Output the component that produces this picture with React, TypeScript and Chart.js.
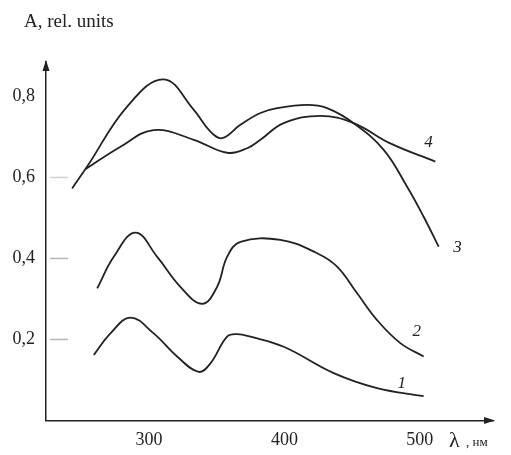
import React, { useEffect, useRef } from "react";
import { Chart, registerables } from "chart.js";

Chart.register(...registerables);

const curve1X = [259.3, 271.6, 286.3, 303.5, 320.8, 336.8, 345.4, 357.7, 365.1, 374.9, 399.5, 436.4, 468.4, 502.8];
const curve1Y = [0.162, 0.215, 0.254, 0.215, 0.158, 0.12, 0.141, 0.207, 0.213, 0.207, 0.182, 0.117, 0.08, 0.06];

const curve2X = [261.8, 274.0, 290.0, 306.1, 323.2, 339.3, 350.3, 357.7, 367.5, 397.0, 424.1, 438.9, 453.7, 468.4, 485.6, 502.8];
const curve2Y = [0.326, 0.404, 0.464, 0.404, 0.33, 0.288, 0.33, 0.404, 0.441, 0.446, 0.413, 0.38, 0.314, 0.248, 0.191, 0.158];

const curve3X = [243.3, 254.4, 283.9, 310.9, 333.1, 345.4, 354.0, 367.5, 382.3, 394.6, 416.8, 431.5, 451.1, 473.3, 490.6, 502.8, 513.9];
const curve3Y = [0.573, 0.627, 0.775, 0.842, 0.767, 0.713, 0.697, 0.73, 0.759, 0.771, 0.779, 0.771, 0.734, 0.668, 0.577, 0.503, 0.429];

const curve4X = [253.0, 279.0, 303.5, 333.1, 357.7, 372.5, 382.3, 399.5, 426.6, 451.1, 478.2, 511.4];
const curve4Y = [0.62, 0.676, 0.717, 0.693, 0.661, 0.672, 0.693, 0.734, 0.752, 0.734, 0.684, 0.639];

const curveNames = ["1", "2", "3", "4"];
const labelX = [486.7, 497.8, 527.7, 506.3];
const labelY = [0.092, 0.219, 0.428, 0.685];

const xTicks = [300, 400, 500];
const yTicks = [0.2, 0.4, 0.6, 0.8];
const yTickLabels = ["0,2", "0,4", "0,6", "0,8"];
const yTitle = "A, rel. units";
const xTitleSymbol = "λ";
const xTitleUnit = ", нм";

const xMin = 224;
const xMax = 554;
const yMin = 0;
const yMax = 0.885;

const ink = "#222222";
const serif = "'Liberation Serif', 'DejaVu Serif', serif";

function toPoints(xs: number[], ys: number[]) {
  return xs.map((x, i) => ({ x, y: ys[i] }));
}

const decorPlugin = {
  id: "decor",
  afterDraw(chart: any) {
    const ctx = chart.ctx as CanvasRenderingContext2D;
    const xs = chart.scales.x;
    const ys = chart.scales.y;
    const area = chart.chartArea;
    ctx.save();
    yTicks.forEach((v, i) => {
      if (v > 0.7) return;
      const py = ys.getPixelForValue(v);
      ctx.strokeStyle = i === 2 ? "#d2d2d2" : "#b5b5b5";
      ctx.lineWidth = 1.5;
      ctx.beginPath();
      ctx.moveTo(area.left + 4, py);
      ctx.lineTo(area.left + 22, py);
      ctx.stroke();
    });
    ctx.fillStyle = ink;
    ctx.beginPath();
    ctx.moveTo(area.left, area.top - 2);
    ctx.lineTo(area.left - 3.5, area.top + 9);
    ctx.lineTo(area.left + 3.5, area.top + 9);
    ctx.closePath();
    ctx.fill();
    ctx.beginPath();
    ctx.moveTo(area.right + 2, area.bottom);
    ctx.lineTo(area.right - 9, area.bottom - 3.5);
    ctx.lineTo(area.right - 9, area.bottom + 3.5);
    ctx.closePath();
    ctx.fill();
    ctx.fillStyle = ink;
    ctx.textBaseline = "middle";
    ctx.textAlign = "left";
    ctx.font = `19px ${serif}`;
    ctx.fillText(yTitle, 24, 22);
    ctx.font = `22px ${serif}`;
    ctx.fillText(xTitleSymbol, 449, 441);
    ctx.font = `13px ${serif}`;
    ctx.fillText(xTitleUnit, 466, 443);
    ctx.font = `italic 17px ${serif}`;
    ctx.textAlign = "center";
    curveNames.forEach((n, i) => {
      ctx.fillText(n, xs.getPixelForValue(labelX[i]), ys.getPixelForValue(labelY[i]));
    });
    ctx.restore();
  },
};

export default function App() {
  const ref = useRef<HTMLCanvasElement>(null);
  useEffect(() => {
    if (!ref.current) return;
    const ds = (xs: number[], yv: number[]) => ({
      data: toPoints(xs, yv),
      borderColor: ink,
      borderWidth: 1.8,
      pointRadius: 0,
      fill: false,
      tension: 0.4,
    });
    const chart = new Chart(ref.current, {
      type: "line",
      data: {
        datasets: [
          ds(curve1X, curve1Y),
          ds(curve2X, curve2Y),
          ds(curve3X, curve3Y),
          ds(curve4X, curve4Y),
        ],
      },
      options: {
        animation: false,
        responsive: false,
        layout: { padding: { top: 62, right: 18, left: 0, bottom: 0 } },
        plugins: { legend: { display: false }, tooltip: { enabled: false } },
        scales: {
          x: {
            type: "linear",
            min: xMin,
            max: xMax,
            afterBuildTicks: (s: any) => {
              s.ticks = xTicks.map((v) => ({ value: v }));
            },
            afterFit: (s: any) => {
              s.height = 34.5;
            },
            grid: { display: false, drawTicks: false },
            border: { display: true, color: ink, width: 1.5 },
            ticks: {
              padding: 9,
              color: ink,
              font: { family: serif, size: 18 },
              maxRotation: 0,
              autoSkip: false,
              callback: (v: any) => String(v),
            },
          },
          y: {
            type: "linear",
            min: yMin,
            max: yMax,
            afterBuildTicks: (s: any) => {
              s.ticks = yTicks.map((v) => ({ value: v }));
            },
            afterFit: (s: any) => {
              s.width = 46;
            },
            grid: { display: false, drawTicks: false },
            border: { display: true, color: ink, width: 1.5 },
            ticks: {
              padding: 11,
              color: ink,
              font: { family: serif, size: 18 },
              autoSkip: false,
              callback: (v: any) => {
                const i = yTicks.findIndex((t) => Math.abs(t - v) < 1e-6);
                return i >= 0 ? yTickLabels[i] : "";
              },
            },
          },
        },
      },
      plugins: [decorPlugin],
    });
    return () => chart.destroy();
  }, []);
  return (
    <div style={{ position: "fixed", left: 0, top: 0, width: 511, height: 455, background: "#fff" }}>
      <canvas ref={ref} width={511} height={455} style={{ width: 511, height: 455, display: "block" }} />
    </div>
  );
}
